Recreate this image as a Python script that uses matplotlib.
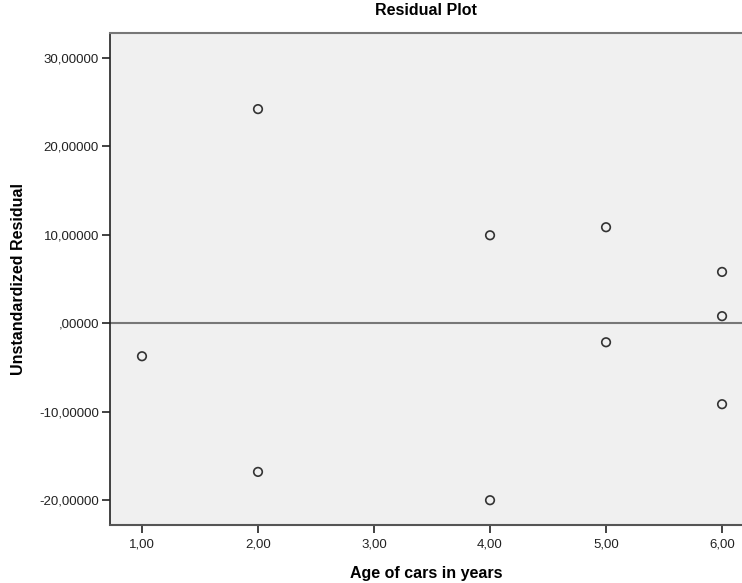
import matplotlib
matplotlib.use("Agg")
import matplotlib.pyplot as plt
from matplotlib.ticker import FuncFormatter

plt.rcParams['font.family'] = ['Liberation Sans', 'DejaVu Sans']

age = [1, 2, 2, 4, 4, 5, 5, 6, 6, 6]
residual = [-3.73, 24.2, -16.8, 9.94, -20.0, 10.85, -2.15, 5.8, 0.8, -9.15]
xticks = [1, 2, 3, 4, 5, 6]
yticks = [-20, -10, 0, 10, 20, 30]

fig = plt.figure(figsize=(7.42, 5.83), dpi=100)
ax = fig.add_axes([0.1482, 0.0995, 0.8518, 0.8439])
ax.set_facecolor('#F0F0F0')

ax.axhline(0, color='#777777', lw=1.5, zorder=1)
ax.scatter(age, residual, s=38, facecolors='none', edgecolors='#333333', linewidths=1.2, zorder=3)

ax.set_xlim(0.724, 6.172)
ax.set_ylim(-22.8, 32.8)
ax.set_xticks(xticks)
ax.set_yticks(yticks)

def fx(v, p):
    return f"{v:.2f}".replace('.', ',')

def fy(v, p):
    s = f"{v:.5f}".replace('.', ',')
    if abs(v) < 1e-9:
        s = ",00000"
    return s

ax.xaxis.set_major_formatter(FuncFormatter(fx))
ax.yaxis.set_major_formatter(FuncFormatter(fy))
ax.tick_params(axis='both', labelsize=9.5, colors='#222222', length=6, width=1.2)
ax.tick_params(axis='y', pad=2)
ax.tick_params(axis='x', pad=4)

ax.spines['left'].set_color('#222222')
ax.spines['left'].set_linewidth(1.2)
ax.spines['bottom'].set_color('#555555')
ax.spines['bottom'].set_linewidth(1.5)
ax.spines['top'].set_color('#777777')
ax.spines['top'].set_linewidth(1.5)
ax.spines['right'].set_visible(False)

ax.set_title('Residual Plot', fontsize=11.5, fontweight='bold', pad=13)
ax.set_xlabel('Age of cars in years', fontsize=11.5, fontweight='bold', labelpad=11)
ax.set_ylabel('Unstandardized Residual', fontsize=11.5, fontweight='bold', labelpad=9)

fig.savefig('out.png', dpi=100)
